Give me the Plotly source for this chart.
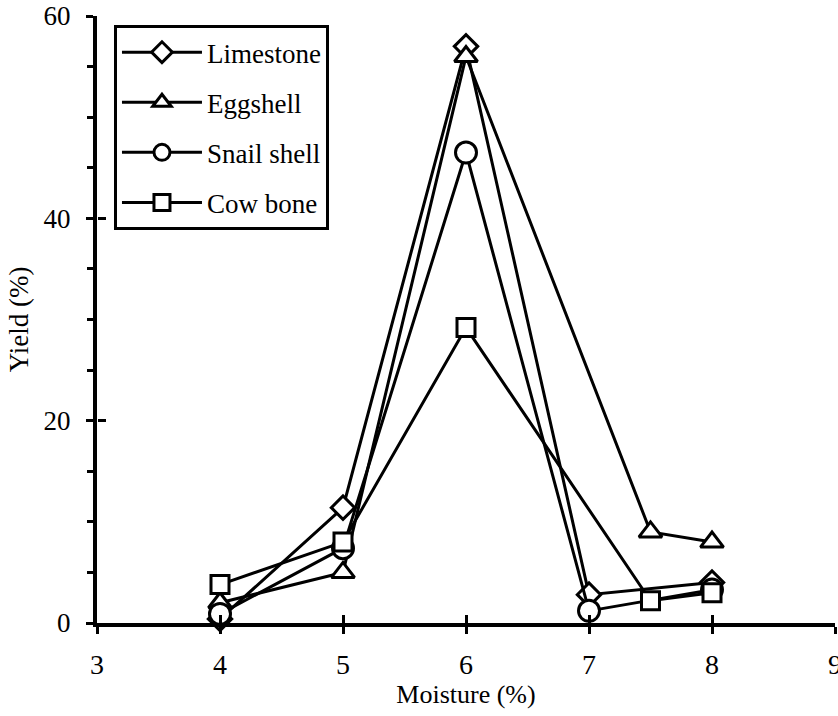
import plotly.graph_objects as go

moisture_a = [4, 5, 6, 7, 8]
moisture_b = [4, 5, 6, 7.5, 8]

limestone = [0.4, 11.4, 57.0, 2.8, 4.0]
eggshell = [2.0, 5.0, 56.0, 9.0, 8.0]
snail_shell = [0.9, 7.4, 46.5, 1.2, 3.3]
cow_bone = [3.8, 8.0, 29.2, 2.2, 3.0]

series = [
    ("Limestone", moisture_a, limestone, "diamond", 18),
    ("Eggshell", moisture_b, eggshell, "triangle-up", 20),
    ("Snail shell", moisture_a, snail_shell, "circle", 21),
    ("Cow bone", moisture_b, cow_bone, "square", 18),
]

FONT = "Liberation Serif"

fig = go.Figure()
for i, (name, xs, ys, sym, sz) in enumerate(series):
    fig.add_trace(go.Scatter(
        x=xs, y=ys, name=name, mode="lines+markers",
        legendgroup=f"g{i}",
        line=dict(color="black", width=3),
        marker=dict(symbol=sym, size=sz, color="white",
                    line=dict(color="black", width=3)),
        cliponaxis=False,
    ))

# invisible trace on secondary axes to render the inner half of crossing tick marks
fig.add_trace(go.Scatter(x=[3, 9], y=[0, 60], xaxis="x2", yaxis="y2",
                         mode="markers", marker=dict(opacity=0),
                         showlegend=False, hoverinfo="skip"))

fig.update_layout(
    width=838, height=716,
    margin=dict(l=97, r=3, t=16, b=93),
    paper_bgcolor="white", plot_bgcolor="white",
    font=dict(family=FONT, color="black", size=26),
    showlegend=True,
    legend=dict(
        x=0.023, y=0.985, xanchor="left", yanchor="top",
        bordercolor="black", borderwidth=3, bgcolor="white",
        font=dict(family=FONT, size=27, color="black"),
        tracegroupgap=12, itemwidth=80,
    ),
    xaxis=dict(
        range=[3, 9], dtick=1, tick0=3, automargin=False,
        showgrid=False, zeroline=False,
        showline=True, linecolor="black", linewidth=4,
        ticks="outside", ticklen=7, tickwidth=3, tickcolor="black",
        ticklabeloverflow="allow", ticklabelstandoff=6,
        tickfont=dict(family=FONT, size=28, color="black"),
        title=dict(text="Moisture (%)", font=dict(family=FONT, size=26, color="black"), standoff=4),
    ),
    yaxis=dict(
        range=[0, 60], dtick=20, automargin=False,
        showgrid=False, zeroline=False,
        showline=True, linecolor="black", linewidth=4,
        ticks="outside", ticklen=7, tickwidth=3, tickcolor="black",
        ticklabeloverflow="allow", ticklabelstandoff=10,
        tickfont=dict(family=FONT, size=27, color="black"),
        minor=dict(dtick=5, ticks="outside", ticklen=6, tickwidth=3, tickcolor="black", showgrid=False),
        title=dict(text="Yield (%)", font=dict(family=FONT, size=27, color="black"), standoff=8),
    ),
    xaxis2=dict(
        overlaying="x", range=[3, 9], dtick=1, tick0=3, side="bottom",
        anchor="y", automargin=False,
        showgrid=False, zeroline=False, showline=False,
        ticks="inside", ticklen=8, tickwidth=3, tickcolor="black",
        showticklabels=False,
    ),
    yaxis2=dict(
        overlaying="y", range=[0, 60], dtick=20, side="left",
        anchor="free", position=0, automargin=False,
        showgrid=False, zeroline=False, showline=False,
        ticks="inside", ticklen=8, tickwidth=3, tickcolor="black",
        showticklabels=False,
    ),
)

fig.write_html(
    "out.html",
    config={"displayModeBar": False},
    post_script="document.body.style.margin='0px';document.body.style.overflow='hidden';",
)
